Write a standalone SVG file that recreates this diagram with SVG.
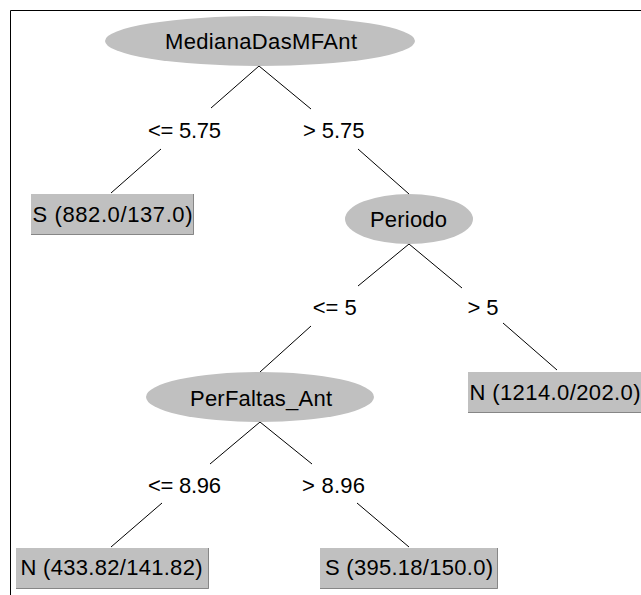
<svg xmlns="http://www.w3.org/2000/svg" width="641" height="595" viewBox="0 0 641 595">
<style>
.bg{fill:#ffffff}
.frame{fill:none;stroke:#000;stroke-width:1}
.oval{fill:#c0c0c0;stroke:none}
.box{fill:#c0c0c0;stroke:none}
.shade{fill:none;stroke:#868686;stroke-width:1}
.edge{stroke:#000;stroke-width:1;fill:none}
text{font-family:"Liberation Sans",Arial,sans-serif;font-size:22px;fill:#000}
</style>
<rect class="bg" x="0" y="0" width="641" height="595"/>
<path class="frame" d="M10.5,595 V10.5 H641"/>
<g id="connectors">
<line class="edge" x1="259" y1="66" x2="211" y2="108"/>
<line class="edge" x1="259" y1="66" x2="311" y2="109"/>
<line class="edge" x1="161" y1="149" x2="111" y2="193"/>
<line class="edge" x1="358" y1="149" x2="409" y2="194"/>
<line class="edge" x1="409" y1="244" x2="358" y2="286"/>
<line class="edge" x1="409" y1="244" x2="462" y2="288"/>
<line class="edge" x1="311" y1="326" x2="260" y2="372"/>
<line class="edge" x1="503" y1="323" x2="557" y2="370"/>
<line class="edge" x1="260" y1="422" x2="210" y2="464"/>
<line class="edge" x1="260" y1="422" x2="312" y2="464"/>
<line class="edge" x1="162" y1="503" x2="111" y2="547"/>
<line class="edge" x1="357" y1="503" x2="409" y2="547"/>
</g>
<g id="edge-labels">
<text x="148" y="138" textLength="73" lengthAdjust="spacing">&lt;= 5.75</text>
<text x="303" y="138" textLength="61.5" lengthAdjust="spacing">&gt; 5.75</text>
<text x="312.7" y="315">&lt;= 5</text>
<text x="467.4" y="315">&gt; 5</text>
<text x="148" y="493" textLength="73" lengthAdjust="spacing">&lt;= 8.96</text>
<text x="302" y="493" textLength="63" lengthAdjust="spacing">&gt; 8.96</text>
</g>
<g id="node-MedianaDasMFAnt">
<ellipse class="oval" cx="260" cy="41" rx="155" ry="25"/>
<text x="165" y="49" textLength="192" lengthAdjust="spacing">MedianaDasMFAnt</text>
</g>
<g id="node-Periodo">
<ellipse class="oval" cx="409" cy="219" rx="64" ry="25"/>
<text x="370" y="227" textLength="77" lengthAdjust="spacing">Periodo</text>
</g>
<g id="node-PerFaltas_Ant">
<ellipse class="oval" cx="260" cy="397" rx="114" ry="25"/>
<text x="190" y="406" textLength="142" lengthAdjust="spacing">PerFaltas_Ant</text>
</g>
<g id="leaf-S-882">
<rect class="box" x="31" y="194" width="163" height="41"/>
<path class="shade" d="M31,234.5 H193.5 V194"/>
<text x="32.5" y="222" textLength="160" lengthAdjust="spacing">S (882.0/137.0)</text>
</g>
<g id="leaf-N-1214">
<rect class="box" x="468" y="372" width="175" height="41"/>
<path class="shade" d="M468,412.5 H641"/>
<text x="469.5" y="400" textLength="171" lengthAdjust="spacing">N (1214.0/202.0)</text>
</g>
<g id="leaf-N-433">
<rect class="box" x="16" y="548" width="193" height="41"/>
<path class="shade" d="M16,588.5 H208.5 V548"/>
<text x="20.5" y="575" textLength="182" lengthAdjust="spacing">N (433.82/141.82)</text>
</g>
<g id="leaf-S-395">
<rect class="box" x="320" y="548" width="178" height="41"/>
<path class="shade" d="M320,588.5 H497.5 V548"/>
<text x="325" y="575" textLength="168" lengthAdjust="spacing">S (395.18/150.0)</text>
</g>
</svg>
